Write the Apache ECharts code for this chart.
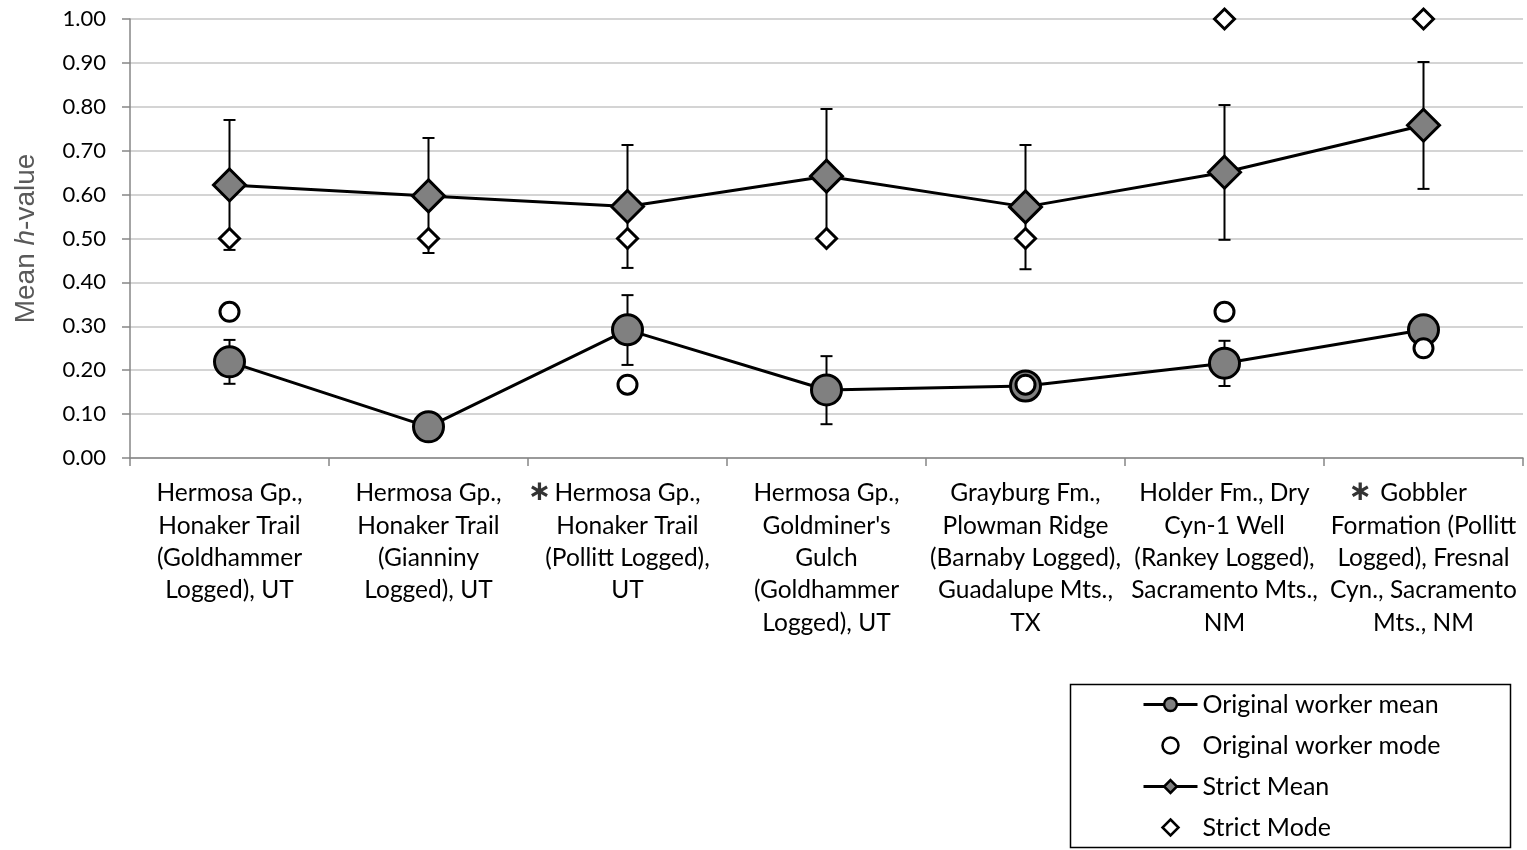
<!DOCTYPE html>
<html><head><meta charset="utf-8">
<script src="https://cdn.jsdelivr.net/npm/echarts@6/dist/echarts.min.js"></script>
<style>html,body{margin:0;padding:0;background:#fff}#c{width:1527px;height:850px}</style>
</head><body><div id="c"></div>
<script>
const categories = [
  "Hermosa Gp.,\nHonaker Trail\n(Goldhammer\nLogged), UT",
  "Hermosa Gp.,\nHonaker Trail\n(Gianniny\nLogged), UT",
  "{ast|∗}{g1|}Hermosa Gp.,{sp1|}\nHonaker Trail\n(Pollitt Logged),\nUT",
  "Hermosa Gp.,\nGoldminer's\nGulch\n(Goldhammer\nLogged), UT",
  "Grayburg Fm.,\nPlowman Ridge\n(Barnaby Logged),\nGuadalupe Mts.,\nTX",
  "Holder Fm., Dry\nCyn-1 Well\n(Rankey Logged),\nSacramento Mts.,\nNM",
  "{ast|∗}{g2|}Gobbler{sp2|}\nFormation (Pollitt\nLogged), Fresnal\nCyn., Sacramento\nMts., NM"
];
const origMean = [0.219, 0.071, 0.292, 0.155, 0.164, 0.216, 0.292];
const origMeanLow = [0.169, null, 0.212, 0.077, null, 0.164, null];
const origMeanHigh = [0.269, null, 0.371, 0.232, null, 0.267, null];
const origMode = [0.333, null, 0.167, null, 0.167, 0.333, 0.25];
const strictMean = [0.622, 0.597, 0.573, 0.642, 0.572, 0.651, 0.758];
const strictMeanLow = [0.474, 0.467, 0.433, 0.489, 0.430, 0.497, 0.613];
const strictMeanHigh = [0.770, 0.729, 0.713, 0.795, 0.713, 0.804, 0.902];
const strictMode = [0.5, 0.5, 0.5, 0.5, 0.5, 1.0, 1.0];
const yTicks = {min: 0, max: 1, interval: 0.1};

const FONT = 'Lato, "Noto Sans", sans-serif';
const ARIAL = '"Liberation Sans", Arial, sans-serif';
const errData = [];
categories.forEach((c, i) => {
  if (origMeanLow[i] != null) errData.push([i, origMeanLow[i], origMeanHigh[i]]);
  errData.push([i, strictMeanLow[i], strictMeanHigh[i]]);
});

const chart = echarts.init(document.getElementById('c'));
chart.setOption({
  animation: false,
  backgroundColor: '#fff',
  grid: {left: 130, right: 4, top: 19, bottom: 392},
  graphic: [{
    type: 'rect',
    shape: {x: 1070.5, y: 684.5, width: 440, height: 163},
    style: {fill: 'none', stroke: '#000', lineWidth: 1.5}, z: 10
  }],
  legend: {
    orient: 'vertical', left: 1137, top: 687,
    itemWidth: 54, itemHeight: 16, itemGap: 16,
    textStyle: {fontFamily: FONT, fontSize: 25, color: '#000'},
    lineStyle: {width: 3},
    itemStyle: {borderWidth: 2.5},
    data: [
      'Original worker mean',
      'Original worker mode',
      'Strict Mean',
      {name: 'Strict Mode', icon: 'path://M0,-1L1,0L0,1L-1,0Z'}
    ]
  },
  xAxis: {
    type: 'category', data: categories, boundaryGap: true,
    axisLine: {lineStyle: {color: '#868686', width: 1.5}},
    axisTick: {show: true, length: 8, lineStyle: {color: '#868686', width: 1.5}},
    axisLabel: {
      interval: 0, margin: 19, fontFamily: FONT, fontSize: 24.5, lineHeight: 32.4, color: '#000', align: 'center',
      rich: {
        ast: {fontSize: 28, fontFamily: '"DejaVu Sans", sans-serif', fontWeight: 'bold', color: '#333', lineHeight: 32.4, width: 16},
        g1: {width: 7}, sp1: {width: 23},
        g2: {width: 12}, sp2: {width: 28}
      }
    },
    splitLine: {show: false}
  },
  yAxis: {
    type: 'value', min: yTicks.min, max: yTicks.max, interval: yTicks.interval,
    name: '{n|Mean }{i|h}{n|-value}', nameLocation: 'middle', nameGap: 90, nameRotate: 90,
    nameTextStyle: {rich: {
      n: {fontFamily: ARIAL, fontSize: 28, color: '#595959'},
      i: {fontFamily: ARIAL, fontSize: 28, color: '#595959', fontStyle: 'italic'}
    }},
    axisLine: {show: true, lineStyle: {color: '#868686', width: 1.5}},
    axisTick: {show: true, length: 8, lineStyle: {color: '#868686', width: 1.5}},
    axisLabel: {margin: 24, fontFamily: FONT, fontSize: 22, color: '#000', formatter: v => v.toFixed(2)},
    splitLine: {lineStyle: {color: '#c6c6c6', width: 1.5}}
  },
  series: [
    {
      type: 'custom', name: 'err', z: 1, data: errData,
      encode: {x: 0, y: [1, 2]},
      renderItem: function (params, api) {
        const x = api.value(0);
        const lo = api.coord([x, api.value(1)]);
        const hi = api.coord([x, api.value(2)]);
        const cw = 6;
        const st = {stroke: '#000', lineWidth: 2};
        return {type: 'group', children: [
          {type: 'line', shape: {x1: lo[0], y1: lo[1], x2: hi[0], y2: hi[1]}, style: st},
          {type: 'line', shape: {x1: lo[0] - cw, y1: lo[1], x2: lo[0] + cw, y2: lo[1]}, style: st},
          {type: 'line', shape: {x1: hi[0] - cw, y1: hi[1], x2: hi[0] + cw, y2: hi[1]}, style: st}
        ]};
      }
    },
    {
      type: 'line', name: 'Original worker mean', data: origMean, z: 2,
      symbol: 'circle', symbolSize: 30, showAllSymbol: true,
      lineStyle: {color: '#000', width: 3},
      itemStyle: {color: '#808080', borderColor: '#000', borderWidth: 3}
    },
    {
      type: 'scatter', name: 'Original worker mode', data: origMode, z: 3,
      symbol: 'circle', symbolSize: 19, symbolKeepAspect: true,
      itemStyle: {color: '#fff', borderColor: '#000', borderWidth: 3, opacity: 1}
    },
    {
      type: 'line', name: 'Strict Mean', data: strictMean, z: 2,
      symbol: 'diamond', symbolSize: 32, showAllSymbol: true, symbolKeepAspect: true,
      lineStyle: {color: '#000', width: 3},
      itemStyle: {color: '#808080', borderColor: '#000', borderWidth: 3}
    },
    {
      type: 'scatter', name: 'Strict Mode', data: strictMode, z: 3,
      symbol: 'diamond', symbolSize: 20, symbolKeepAspect: true,
      itemStyle: {color: '#fff', borderColor: '#000', borderWidth: 3, opacity: 1}
    }
  ]
});
</script></body></html>
